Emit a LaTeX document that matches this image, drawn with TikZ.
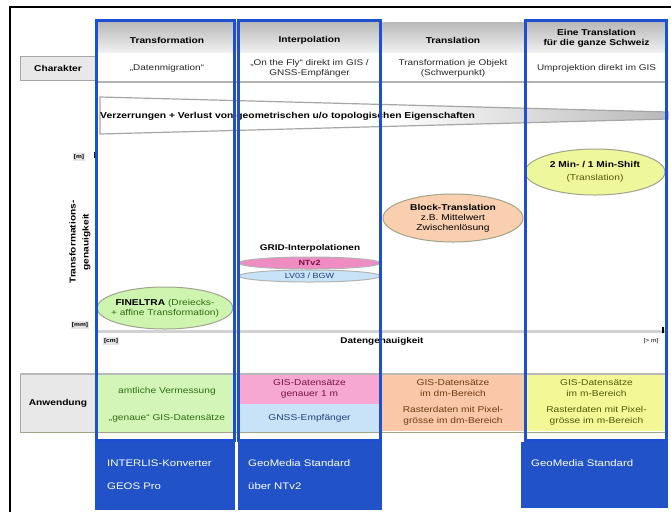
\documentclass[tikz,border=0pt]{standalone}
\usepackage{fontspec}
\setmainfont{Liberation Sans}[FakeStretch=1.2]
\usetikzlibrary{shapes.geometric}
\definecolor{frameblue}{HTML}{1E4FD0}
\definecolor{boxblue}{HTML}{2152C8}
\definecolor{cgreen}{HTML}{D3F6B8}
\definecolor{egreen}{HTML}{CDF5B0}
\definecolor{cpink}{HTML}{F7A8D2}
\definecolor{epink}{HTML}{F08CC4}
\definecolor{cblue}{HTML}{C8E3F7}
\definecolor{corange}{HTML}{FAC8A8}
\definecolor{eorange}{HTML}{F9CFB0}
\definecolor{cyellow}{HTML}{F4F796}
\definecolor{eyellow}{HTML}{EFF79C}
\definecolor{lborder}{HTML}{A0A48A}
\definecolor{tgreen}{HTML}{2F6A12}
\definecolor{tbrown}{HTML}{6E3A12}
\definecolor{tolive}{HTML}{4E5A08}
\definecolor{tpink}{HTML}{7A1040}
\definecolor{tblue}{HTML}{1F3F7A}
\tikzset{
  hdr/.style={inner sep=0pt, minimum height=30pt, top color=gray!55, bottom color=gray!12},
  hdrtxt/.style={inner sep=0pt, align=center, font=\fontsize{8.5}{10}\selectfont\bfseries},
  chr/.style={inner sep=0pt, minimum height=26pt, fill=white, align=center, text=black!85, font=\fontsize{8.3}{10}\selectfont},
  lbl/.style={inner sep=0pt, fill=gray!18, draw=gray!70, line width=1pt, align=center, font=\fontsize{8.5}{10}\selectfont\bfseries},
  use/.style={inner sep=0pt, align=center, font=\fontsize{8.5}{11}\selectfont},
  blueframe/.style={draw=frameblue, line width=3pt},
  bluebox/.style={fill=boxblue, draw=none},
  bluetxt/.style={text=white, anchor=west, inner sep=0pt, font=\fontsize{9.5}{11}\selectfont},
  ell/.style={ellipse, draw=lborder, line width=1pt, inner sep=0pt, align=center, font=\fontsize{8.5}{10}\selectfont},
  axlbl/.style={inner sep=1pt, fill=gray!20, font=\fontsize{5.5}{6}\selectfont\bfseries},
}
\begin{document}
\begin{tikzpicture}[x=1pt,y=-1pt]
\useasboundingbox (0,0) rectangle (671,512);
\fill[white] (0,0) rectangle (671,512);
% outer frame
\draw[black, line width=2pt] (9,7) -- (671,7);
\draw[black, line width=2pt] (10,7) -- (10,512);
% header row
\node[hdr, minimum width=140pt] (h1) at (167,37) {};
\node[hdr, minimum width=142pt] (h2) at (309.5,37) {};
\node[hdr, minimum width=141pt] (h3) at (453,37) {};
\node[hdr, minimum width=142pt] (h4) at (596.5,37) {};
\node[hdrtxt] (h1t) at (167,40) {Transformation};
\node[hdrtxt] (h2t) at (309.5,40) {Interpolation};
\node[hdrtxt] (h3t) at (453,40) {Translation};
\node[hdrtxt] (h4t) at (596.5,38) {Eine Translation\\für die ganze Schweiz};
% character row
\node[lbl, minimum width=76pt, minimum height=24pt] (lc) at (58,68) {Charakter};
\node[chr, minimum width=140pt] (c1) at (167,68) {„Datenmigration“};
\node[chr, minimum width=142pt] (c2) at (309.5,68) {„On the Fly“ direkt im GIS /\\GNSS-Empfänger};
\node[chr, minimum width=141pt] (c3) at (453,68) {Transformation je Objekt\\(Schwerpunkt)};
\node[chr, minimum width=142pt] (c4) at (596.5,68) {Umprojektion direkt im GIS};
\draw[gray!60, line width=0.6pt] (237.5,55) -- (237.5,81) (381.5,55) -- (381.5,81) (524.5,55) -- (524.5,81);
\draw[gray!60, line width=1.5pt] (97,82) -- (668,82);
% wedge
\shade[left color=white, right color=gray!55, middle color=white, draw=gray!70, line width=1.2pt]
  (100,97) -- (668,112) -- (668,119) -- (100,134) -- cycle;
\node[inner sep=0pt, anchor=west, font=\fontsize{8.6}{10}\selectfont\bfseries] (wt) at (100,116)
  {Verzerrungen + Verlust von geometrischen u/o topologischen Eigenschaften};
% y axis
\node[axlbl] (ym) at (79,157) {[m]};
\node[axlbl] (ymm) at (80,325) {[mm]};
\node[rotate=90, align=center, inner sep=0pt, font=\fontsize{8.5}{13}\selectfont\bfseries] (yl) at (80,242) {Transformations-\\genauigkeit};
\draw[black, line width=1.5pt] (95,152) -- (95,158);
% x axis
\draw[gray!35, line width=3pt] (97,331) -- (668,331);
\draw[black, line width=1.2pt] (663,327) -- (663,333);
\node[axlbl] (xcm) at (111,341) {[cm]};
\node[inner sep=0pt, font=\fontsize{8.3}{10}\selectfont\bfseries] (xl) at (382,341) {Datengenauigkeit};
\node[inner sep=1pt, font=\fontsize{5.5}{6}\selectfont] (xm) at (651,341) {[> m]};
% ellipses
\node[ell, fill=egreen, inner xsep=-7pt, inner ysep=0pt, minimum width=136pt, minimum height=42pt] (eg) at (165,308)
  {\textbf{FINELTRA} \textcolor{tgreen}{(Dreiecks-}\\\textcolor{tgreen}{+ affine Transformation)}};
\node[inner sep=0pt, font=\fontsize{8.3}{10}\selectfont\bfseries] (gt) at (310,248) {GRID-Interpolationen};
\node[ell, fill=epink, draw=gray!60, minimum width=141pt, minimum height=12pt, font=\fontsize{7.5}{8}\selectfont] (ep) at (309.5,263)
  {\textcolor{tpink}{\textbf{NTv2}}};
\node[ell, fill=cblue, draw=gray!60, minimum width=141pt, minimum height=12pt, font=\fontsize{7.5}{8}\selectfont] (eb) at (309.5,276)
  {\textcolor{tblue}{LV03 / BGW}};
\node[ell, fill=eorange, inner xsep=-3pt, minimum width=140pt, minimum height=48pt] (eo) at (453,218)
  {\textbf{Block-Translation}\\z.B. Mittelwert\\Zwischenlösung};
\node[ell, fill=eyellow, minimum width=140pt, minimum height=46pt, font=\fontsize{8.5}{12.5}\selectfont] (ey) at (595,172)
  {\textbf{2 Min- / 1 Min-Shift}\\\textcolor{tolive}{(Translation)}};
% Anwendung row
\node[lbl, minimum width=76pt, minimum height=58pt] (la) at (58,403) {Anwendung};
\node[use, fill=cgreen, minimum width=140pt, minimum height=58pt] (a1) at (167,403) {};
\node[use, text=tgreen] (a1t) at (167,404.5)
  {amtliche Vermessung\\[16pt]„genaue“ GIS-Datensätze};
\node[use, fill=cpink, minimum width=143pt, minimum height=30pt, text=tpink] (a2a) at (309.5,389)
  {GIS-Datensätze\\genauer 1 m};
\node[use, fill=cblue, minimum width=143pt, minimum height=28pt, text=tblue] (a2b) at (309.5,418)
  {GNSS-Empfänger};
\node[use, fill=corange, minimum width=142pt, minimum height=58pt, text=tbrown] (a3) at (453,402)
  {GIS-Datensätze\\im dm-Bereich\\[5pt]Rasterdaten mit Pixel-\\grösse im dm-Bereich};
\node[use, fill=cyellow, minimum width=143pt, minimum height=58pt, text=tolive] (a4) at (596.5,402)
  {GIS-Datensätze\\im m-Bereich\\[5pt]Rasterdaten mit Pixel-\\grösse im m-Bereich};
\draw[gray!55, line width=2pt] (20,373.5) -- (668,373.5);
\draw[lborder, line width=1.5pt] (20,432.5) -- (668,432.5);
% blue frames
\draw[blueframe] (96,20) rectangle (234,440);
\draw[blueframe] (238.5,20) rectangle (380,440);
\draw[blueframe] (525,20) rectangle (666,440);
% blue boxes
\fill[bluebox] (95,442) rectangle (235,510);
\fill[bluebox] (238,442) rectangle (382,510);
\fill[bluebox] (521,442) rectangle (668,508);
\node[bluetxt] (b1a) at (107,463) {INTERLIS-Konverter};
\node[bluetxt] (b1b) at (107,486) {GEOS Pro};
\node[bluetxt] (b2a) at (248,463) {GeoMedia Standard};
\node[bluetxt] (b2b) at (248,486) {über NTv2};
\node[bluetxt] (b4a) at (531,463) {GeoMedia Standard};
\end{tikzpicture}
\end{document}
